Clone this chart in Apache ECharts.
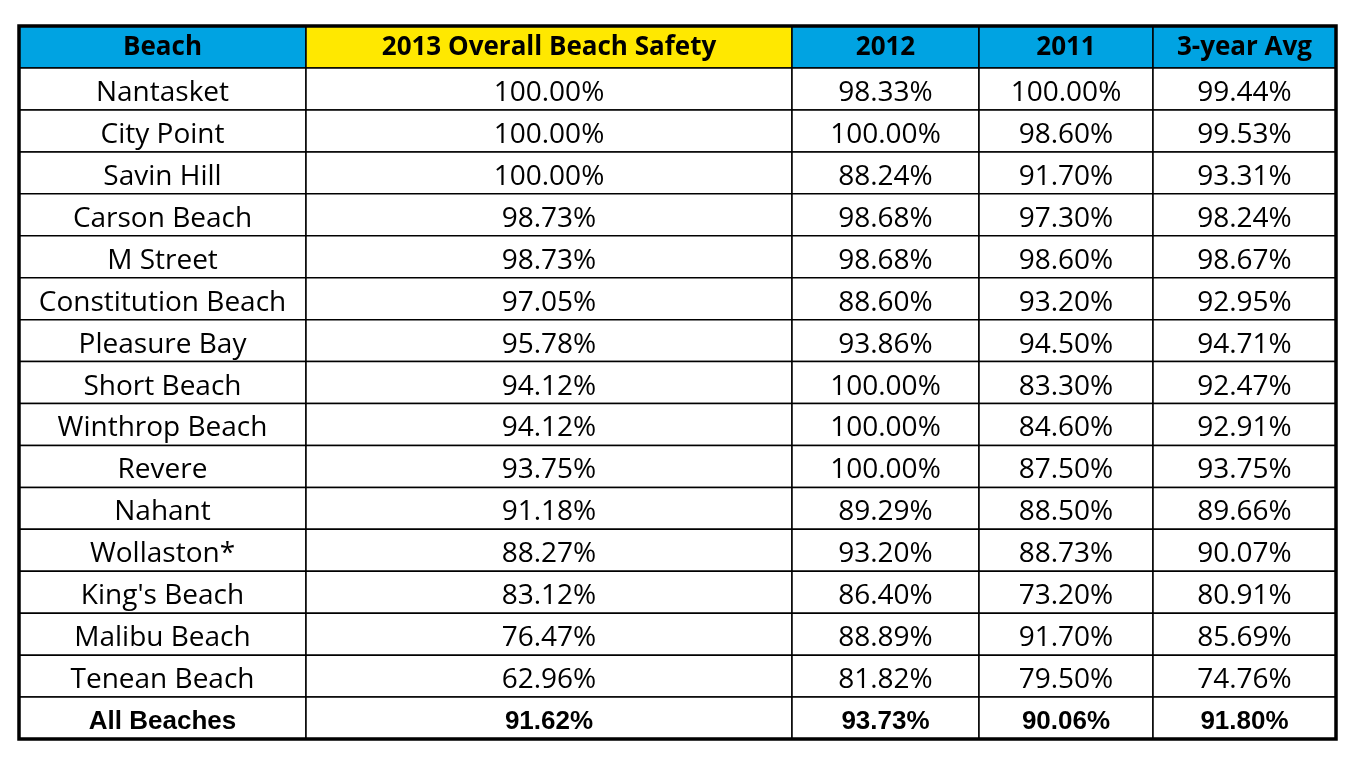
<!DOCTYPE html>
<html><head><meta charset="utf-8">
<script src="https://cdn.jsdelivr.net/npm/echarts@6/dist/echarts.min.js"></script>
<style>html,body{margin:0;padding:0;background:#fff}#c{width:1357px;height:759px}</style>
</head><body><div id="c"></div>
<script>
const headers = ["Beach","2013 Overall Beach Safety","2012","2011","3-year Avg"];
const beaches = ["Nantasket","City Point","Savin Hill","Carson Beach","M Street","Constitution Beach","Pleasure Bay","Short Beach","Winthrop Beach","Revere","Nahant","Wollaston*","King's Beach","Malibu Beach","Tenean Beach","All Beaches"];
const y2013 = ["100.00%","100.00%","100.00%","98.73%","98.73%","97.05%","95.78%","94.12%","94.12%","93.75%","91.18%","88.27%","83.12%","76.47%","62.96%","91.62%"];
const y2012 = ["98.33%","100.00%","88.24%","98.68%","98.68%","88.60%","93.86%","100.00%","100.00%","100.00%","89.29%","93.20%","86.40%","88.89%","81.82%","93.73%"];
const y2011 = ["100.00%","98.60%","91.70%","97.30%","98.60%","93.20%","94.50%","83.30%","84.60%","87.50%","88.50%","88.73%","73.20%","91.70%","79.50%","90.06%"];
const avg3 = ["99.44%","99.53%","93.31%","98.24%","98.67%","92.95%","94.71%","92.47%","92.91%","93.75%","89.66%","90.07%","80.91%","85.69%","74.76%","91.80%"];

const colEdges = [0,287,773,960,1134,1317];
const headerH = 42, rowH = (713-42)/16;
const columns = [beaches,y2013,y2012,y2011,avg3];
const data = [];
headers.forEach((h,c)=>data.push([c,-1,h]));
columns.forEach((col,c)=>col.forEach((v,r)=>data.push([c,r,v])));
function rowTop(r){return r<0?0:headerH+r*rowH;}
function rowBot(r){return r<0?headerH:headerH+(r+1)*rowH;}
const chart = echarts.init(document.getElementById('c'));
chart.setOption({
  animation:false,
  grid:{left:19,top:26,width:1317,height:713},
  xAxis:{type:'value',min:0,max:1317,show:false},
  yAxis:{type:'value',min:0,max:713,inverse:true,show:false},
  series:[{
    type:'custom',
    data:data,
    renderItem:function(params,api){
      const c=api.value(0), r=api.value(1), txt=data[params.dataIndex][2];
      const p0=api.coord([colEdges[c],rowTop(r)]), p1=api.coord([colEdges[c+1],rowBot(r)]);
      const isH=r<0, isLast=r===15;
      const fill = isH ? (c===1?'#FFE800':'#00A3E2') : '#fff';
      return {type:'group',children:[
        {type:'rect',shape:{x:p0[0],y:p0[1],width:p1[0]-p0[0],height:p1[1]-p0[1]},
         style:{fill:fill,stroke:'#000',lineWidth:1.5}},
        {type:'text',style:{text:txt,x:(p0[0]+p1[0])/2,y:(p0[1]+p1[1])/2+(isH?1:4),align:'center',verticalAlign:'middle',
          fill:'#000',
          font: isH ? 'bold 26px "Open Sans"' : (isLast ? 'bold 26px "Liberation Sans"' : '28px "Open Sans"')}}
      ]};
    }
  },{
    type:'custom',
    data:[[0,0]],
    renderItem:function(params,api){
      const p0=api.coord([0,0]), p1=api.coord([1317,713]);
      return {type:'rect',shape:{x:p0[0],y:p0[1],width:p1[0]-p0[0],height:p1[1]-p0[1]},
        style:{fill:'none',stroke:'#000',lineWidth:3.5}};
    }
  }]
});
</script></body></html>
